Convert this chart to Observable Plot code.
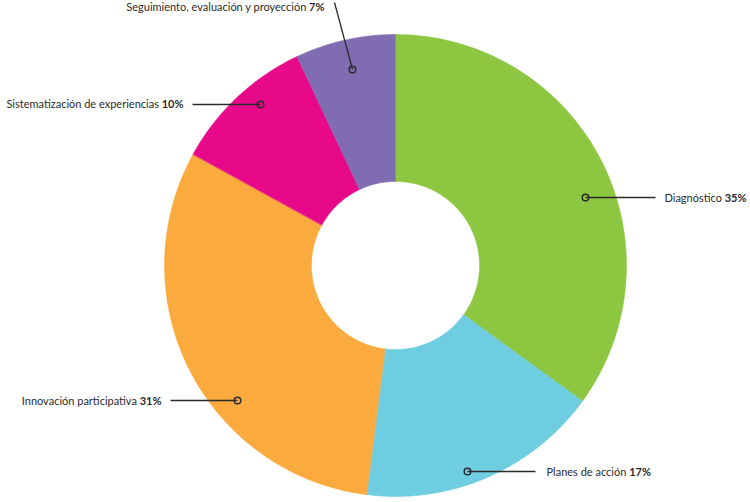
<!DOCTYPE html>
<html>
<head>
<meta charset="utf-8">
<script src="https://cdn.jsdelivr.net/npm/d3@7"></script>
<script src="https://cdn.jsdelivr.net/npm/@observablehq/plot@0.6"></script>
<style>
  html, body { margin: 0; padding: 0; background: #fff; }
  #chart svg { display: block; }
</style>
</head>
<body>
<div id="chart"></div>
<script>
// ---- Data ----
const categories = ["Diagnóstico", "Planes de acción", "Innovación participativa", "Sistematización de experiencias", "Seguimiento, evaluación y proyección"];
const percentages = [35, 17, 31, 10, 7];
const colors = ["#8dc641", "#6fcde2", "#fbab3e", "#e8088a", "#7f6cb1"];

// ---- Layout (pixels) ----
const W = 750, H = 502;
const CX = 395, CY = 265, R_OUT = 231, R_IN = 84;
// label layout: marker (mx,my), leader end (lx,ly), text anchor (tx,ty), side
const labelLayout = [
  {mx: 585, my: 197, lx: 655, ly: 197, tx: 664, ty: 198, anchor: "start"},
  {mx: 467, my: 471, lx: 535, ly: 471, tx: 546, ty: 472, anchor: "start"},
  {mx: 237, my: 400, lx: 170, ly: 400, tx: 161, ty: 401, anchor: "end"},
  {mx: 260, my: 104, lx: 192, ly: 104, tx: 183, ty: 104, anchor: "end"},
  {mx: 352, my: 69,  lx: 334, ly: 2,   tx: 324, ty: 7,   anchor: "end"}
];

// ---- Build slice polygons from values ----
const pie = d3.pie().sort(null).value(d => d)(percentages);
const slicePts = [];
pie.forEach((p, i) => {
  const n = Math.max(8, Math.ceil((p.endAngle - p.startAngle) * 60));
  for (let k = 0; k <= n; k++) {
    const a = p.startAngle + (p.endAngle - p.startAngle) * k / n;
    slicePts.push({cat: categories[i], x: CX + R_OUT * Math.sin(a), y: CY - R_OUT * Math.cos(a)});
  }
  for (let k = n; k >= 0; k--) {
    const a = p.startAngle + (p.endAngle - p.startAngle) * k / n;
    slicePts.push({cat: categories[i], x: CX + R_IN * Math.sin(a), y: CY - R_IN * Math.cos(a)});
  }
});

const labels = categories.map((c, i) => ({cat: c, pct: percentages[i], ...labelLayout[i]}));

const chart = Plot.plot({
  width: W,
  height: H,
  margin: 0,
  x: {domain: [0, W], range: [0, W], axis: null},
  y: {domain: [0, H], range: [0, H], axis: null},
  color: {domain: categories, range: colors},
  style: {background: "#fff", fontFamily: "Lato, sans-serif"},
  marks: [
    Plot.line(slicePts, {x: "x", y: "y", z: "cat", fill: "cat", stroke: "cat", strokeWidth: 0.5, curve: "linear-closed"}),
    Plot.link(labels, {x1: "mx", y1: "my", x2: "lx", y2: "ly", stroke: "#2b2b2b", strokeWidth: 1.3}),
    Plot.dot(labels, {x: "mx", y: "my", r: 3.3, stroke: "#2b2b2b", strokeWidth: 1.5, fill: "none"}),
    Plot.text(labels.filter(d => d.anchor === "start"), {x: "tx", y: "ty", text: d => d.cat + "|" + d.pct, textAnchor: "start", fill: "#2b2b2b", fontSize: 11, className: "lbl"}),
    Plot.text(labels.filter(d => d.anchor === "end"), {x: "tx", y: "ty", text: d => d.cat + "|" + d.pct, textAnchor: "end", fill: "#2b2b2b", fontSize: 11, className: "lbl"})
  ]
});

// bold percentages
d3.select(chart).selectAll("g.lbl text").each(function() {
  const [name, pct] = this.textContent.split("|");
  const t = d3.select(this);
  t.text(null);
  t.append("tspan").text(name + " ");
  t.append("tspan").attr("font-weight", "bold").text(pct + "%");
});

document.getElementById("chart").appendChild(chart);
</script>
</body>
</html>
